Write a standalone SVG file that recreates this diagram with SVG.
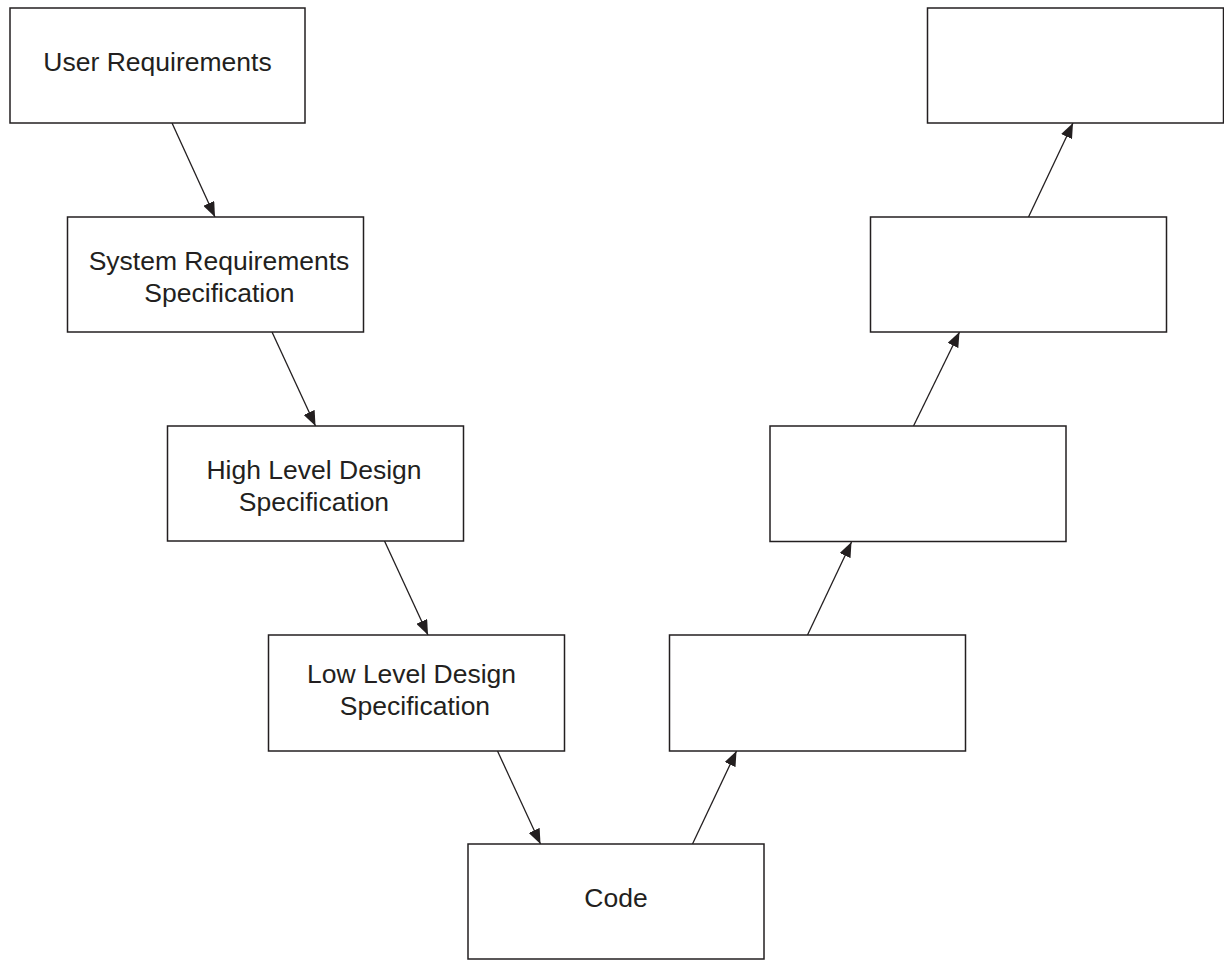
<svg xmlns="http://www.w3.org/2000/svg" width="1224" height="960" viewBox="0 0 1224 960">
<style>
.box{fill:#fff;stroke:#231f20;stroke-width:1.5}
.lbl{font-family:"Liberation Sans",Arial,Helvetica,sans-serif;font-size:26.5px;fill:#231f20;text-anchor:middle}
.edge{stroke:#231f20;stroke-width:1.3;fill:none;marker-end:url(#ah)}
</style>
<defs>
<marker id="ah" viewBox="0 0 15 12" refX="15" refY="6" markerWidth="15" markerHeight="12" markerUnits="userSpaceOnUse" orient="auto">
<path d="M0,0 L15,6 L0,12 z" fill="#231f20"/>
</marker>
</defs>
<rect width="1224" height="960" fill="#fff"/>
<g id="connectors">
<line class="edge" x1="172" y1="123" x2="215" y2="217"/>
<line class="edge" x1="272" y1="332" x2="315.5" y2="426"/>
<line class="edge" x1="384.5" y1="541" x2="428" y2="635"/>
<line class="edge" x1="497.5" y1="751" x2="540.5" y2="844"/>
<line class="edge" x1="692.5" y1="844" x2="736.5" y2="751"/>
<line class="edge" x1="807.5" y1="635" x2="851.5" y2="542"/>
<line class="edge" x1="913.5" y1="426" x2="959.5" y2="332"/>
<line class="edge" x1="1028.5" y1="217" x2="1073" y2="123"/>
</g>
<g id="user-requirements">
<rect class="box" x="10" y="8" width="295" height="115"/>
<text class="lbl" x="157.5" y="71">User Requirements</text>
</g>
<g id="system-requirements">
<rect class="box" x="67.5" y="217" width="296" height="115"/>
<text class="lbl" x="219" y="270">System Requirements</text>
<text class="lbl" x="219.5" y="302">Specification</text>
</g>
<g id="high-level-design">
<rect class="box" x="167.5" y="426" width="296" height="115"/>
<text class="lbl" x="314" y="478.5">High Level Design</text>
<text class="lbl" x="314" y="510.5">Specification</text>
</g>
<g id="low-level-design">
<rect class="box" x="268.5" y="635" width="296" height="116"/>
<text class="lbl" x="411.5" y="683">Low Level Design</text>
<text class="lbl" x="415" y="715">Specification</text>
</g>
<g id="code">
<rect class="box" x="468" y="844" width="296" height="115"/>
<text class="lbl" x="616" y="906.5">Code</text>
</g>
<g id="right-1">
<rect class="box" x="669.5" y="635" width="296" height="116"/>
</g>
<g id="right-2">
<rect class="box" x="770" y="426" width="296" height="115.5"/>
</g>
<g id="right-3">
<rect class="box" x="870.5" y="217" width="296" height="115"/>
</g>
<g id="right-4">
<rect class="box" x="927.5" y="8" width="296" height="115"/>
</g>
</svg>
